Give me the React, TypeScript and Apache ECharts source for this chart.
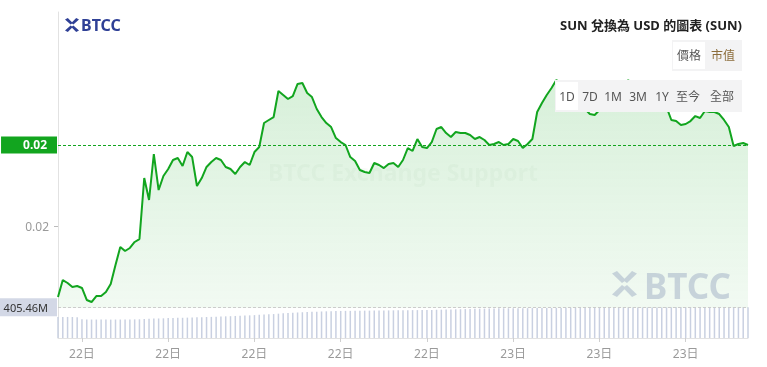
import React, { useEffect, useRef } from 'react';
import * as echarts from 'echarts';

// ---- data ----
const START_DAY = 22;
const START_MINUTES = 8 * 60 + 10; // 22日 08:10
const STEP_MINUTES = 10;

const prices = [
  0.018634, 0.018841, 0.018805, 0.018756, 0.018768, 0.018744, 0.018598, 0.018573, 0.018646, 0.018646,
  0.018695, 0.018793, 0.019024, 0.019244, 0.019195, 0.019232, 0.019305, 0.019341, 0.020085, 0.019817,
  0.020378, 0.019939, 0.020110, 0.020195, 0.020305, 0.020329, 0.020232, 0.020402, 0.020341, 0.019988,
  0.020085, 0.020220, 0.020280, 0.020329, 0.020305, 0.020220, 0.020195, 0.020134, 0.020220, 0.020280,
  0.020244, 0.020402, 0.020463, 0.020756, 0.020793, 0.020829, 0.021146, 0.021098, 0.021049, 0.021085,
  0.021232, 0.021244, 0.021122, 0.021073, 0.020927, 0.020829, 0.020756, 0.020707, 0.020573, 0.020524,
  0.020488, 0.020341, 0.020293, 0.020183, 0.020159, 0.020146, 0.020268, 0.020244, 0.020207, 0.020256,
  0.020268, 0.020220, 0.020305, 0.020451, 0.020415, 0.020561, 0.020463, 0.020451, 0.020524, 0.020683,
  0.020707, 0.020634, 0.020585, 0.020646, 0.020634, 0.020634, 0.020610, 0.020561, 0.020585, 0.020549,
  0.020488, 0.020500, 0.020524, 0.020488, 0.020500, 0.020561, 0.020537, 0.020451, 0.020500, 0.020561,
  0.020890, 0.021000, 0.021098, 0.021183, 0.021280, 0.021244, 0.021171, 0.021085, 0.021024, 0.020976,
  0.020927, 0.020866, 0.020854, 0.020915, 0.020988, 0.021024, 0.021073, 0.021122, 0.021195, 0.021280,
  0.021183, 0.021085, 0.021037, 0.021061, 0.021024, 0.021024, 0.020988, 0.020951, 0.020793, 0.020780,
  0.020732, 0.020744, 0.020780, 0.020841, 0.020817, 0.020902, 0.020890, 0.020890, 0.020866, 0.020793,
  0.020707, 0.020476, 0.020500, 0.020512, 0.020488,
];

// 24h volume, in millions
const volumesM = [
  276, 275, 277, 276, 274,
  248, 244, 243, 243, 244, 243, 242, 243, 243, 244, 244, 245, 246,
  250, 252, 255, 257, 259, 262, 263, 265, 266, 268, 270, 272, 274, 276, 278, 280, 283, 285, 287, 290, 292, 295, 298, 301,
  305, 308, 311, 315, 320, 325, 330, 333, 336, 339, 342, 344, 347, 349, 351, 353, 355,
  356, 357, 357, 358, 359, 360, 360, 361, 362, 363, 363, 364, 365, 365, 366, 367, 367, 368,
  369, 370, 372, 373, 375, 376, 378, 379, 381, 382, 384, 385, 386, 387, 389, 390, 391,
  391, 392, 392, 393, 393, 394, 394, 395, 395, 395, 396, 396, 397, 397, 397, 398, 398, 398, 399, 399,
  399, 400, 400, 400, 400, 401, 401, 401, 401, 402, 402, 402, 402, 403, 403, 403, 403, 403, 404, 404,
  404, 404, 404, 404, 405, 405, 405, 405, 405, 405, 405.46,
];

const priceTicks = [0.0195];
const lastPriceLabel = '0.02';
const lastVolumeLabel = '405.46M';
const title = 'SUN 兌換為 USD 的圖表 (SUN)';
const modeButtons = ['價格', '市值'];
const rangeButtons = ['1D', '7D', '1M', '3M', '1Y', '至今', '全部'];
const watermarkText = 'BTCC Exchange Support';
const brand = 'BTCC';

const minutes = prices.map((_, i) => START_MINUTES + i * STEP_MINUTES);
const categories = minutes.map((m) => {
  const d = START_DAY + Math.floor(m / 1440);
  const hm = m % 1440;
  return `${d}日 ${String(Math.floor(hm / 60)).padStart(2, '0')}:${String(hm % 60).padStart(2, '0')}`;
});

const GREEN = '#12a51f';
const FONT = "'Noto Sans', 'Noto Sans CJK TC', sans-serif";

echarts.graphic.registerShape(
  'btccLogo',
  echarts.graphic.extendPath(
    'M0 2 L4 0 L10 6 L16 0 L20 2 L12 9.2 L10 7.8 L8 9.2 Z M0 18 L4 20 L10 14 L16 20 L20 18 L12 10.8 L10 12.2 L8 10.8 Z',
    {}
  )
);

const labelEvery3h = (idx: number) => minutes[idx] % 180 === 0;

export default function App() {
  const ref = useRef<HTMLDivElement>(null);
  useEffect(() => {
    if (!ref.current) return;
    const chart = echarts.init(ref.current, null, { renderer: 'svg' });
    const rangeX = [567, 590, 613, 638, 662, 688, 722];
    const option: any = {
      animation: false,
      textStyle: { fontFamily: FONT },
      grid: [
        { left: 58, right: 19, top: 12, bottom: 59 },
        { left: 58, right: 19, top: 300, bottom: 29 },
      ],
      xAxis: [
        {
          type: 'category', gridIndex: 0, data: categories, boundaryGap: false,
          axisLine: { show: false }, axisTick: { show: false }, axisLabel: { show: false }, splitLine: { show: false },
        },
        {
          type: 'category', gridIndex: 1, data: categories, boundaryGap: false,
          axisLine: { lineStyle: { color: '#e2e2e2' } },
          axisTick: { show: true, interval: labelEvery3h, length: 4, lineStyle: { color: '#cfcfcf' } },
          axisLabel: {
            interval: labelEvery3h, color: '#9a9a9a', fontSize: 12, margin: 9,
            formatter: (v: string) => v.split(' ')[0],
          },
          splitLine: { show: false },
        },
      ],
      yAxis: [
        {
          type: 'value', gridIndex: 0, min: 0.0185, max: 0.02211,
          axisLine: { show: true, lineStyle: { color: '#e2e2e2' } },
          axisTick: { show: true, customValues: priceTicks, length: 4, lineStyle: { color: '#bbb' } },
          axisLabel: {
            customValues: priceTicks, color: '#9a9a9a', fontSize: 12, margin: 9,
            formatter: (v: number) => v.toFixed(2),
          },
          splitLine: { show: false },
        },
        {
          type: 'value', gridIndex: 1, min: 0, max: 500,
          axisLine: { show: true, lineStyle: { color: '#e2e2e2' } },
          axisTick: { show: false }, axisLabel: { show: false }, splitLine: { show: false },
        },
      ],
      series: [
        {
          type: 'line', xAxisIndex: 0, yAxisIndex: 0, data: prices,
          symbol: 'none', showSymbol: false, z: 3,
          lineStyle: { color: GREEN, width: 2 },
          areaStyle: {
            origin: 'start',
            color: new echarts.graphic.LinearGradient(0, 0, 0, 1, [
              { offset: 0, color: 'rgba(18,165,31,0.24)' },
              { offset: 1, color: 'rgba(18,165,31,0.08)' },
            ]),
          },
          markLine: {
            symbol: 'none', silent: true, animation: false, precision: 8,
            data: [{ yAxis: prices[prices.length - 1] }],
            lineStyle: { color: GREEN, type: [3, 2], width: 1 },
            label: {
              position: 'start', formatter: lastPriceLabel, color: '#fff', fontWeight: 'bold',
              fontSize: 12, backgroundColor: GREEN, padding: [3, 10, 2, 22], distance: 1,
            },
          },
        },
        {
          type: 'bar', xAxisIndex: 1, yAxisIndex: 1, data: volumesM,
          barWidth: 1.5, itemStyle: { color: '#c9d0e1' },
          markLine: {
            symbol: 'none', silent: true, animation: false, precision: 4,
            data: [{ yAxis: volumesM[volumesM.length - 1] }],
            lineStyle: { color: '#cccccc', type: [3, 2], width: 1 },
            label: {
              position: 'start', formatter: lastVolumeLabel, color: '#333', fontSize: 11,
              backgroundColor: '#d3d8e6', padding: [4, 9, 3, 8], distance: 1,
            },
          },
        },
      ],
      graphic: [
        {
          type: 'text', x: 403, y: 172, z: 1, silent: true,
          style: { text: watermarkText, fill: 'rgba(90,140,90,0.045)', font: `bold 23px ${FONT}`, align: 'center', verticalAlign: 'middle' },
        },
        {
          type: 'btccLogo', x: 612, y: 271, scaleX: 1.25, scaleY: 1.3, z: 10, silent: true,
          style: { fill: 'rgba(165,180,200,0.55)' },
        },
        {
          type: 'text', x: 644, y: 285, z: 10, silent: true,
          style: { text: brand, fill: 'rgba(165,180,200,0.55)', font: `bold 35px ${FONT}`, align: 'left', verticalAlign: 'middle' },
        },
        { type: 'btccLogo', x: 65, y: 18, scaleX: 0.7, scaleY: 0.7, z: 100, style: { fill: '#2f4096' } },
        {
          type: 'text', x: 81, y: 25, z: 100,
          style: { text: brand, fill: '#2f4096', font: `bold 16px ${FONT}`, align: 'left', verticalAlign: 'middle' },
        },
        {
          type: 'text', x: 742, y: 25, z: 100,
          style: { text: title, fill: '#222', font: `bold 13px ${FONT}`, align: 'right', verticalAlign: 'middle' },
        },
        { type: 'rect', z: 100, shape: { x: 672, y: 40, width: 70, height: 31 }, style: { fill: '#f3f3f4' } },
        { type: 'rect', z: 101, shape: { x: 673, y: 42, width: 32, height: 27 }, style: { fill: '#ffffff' } },
        {
          type: 'text', x: 689, y: 55, z: 102,
          style: { text: modeButtons[0], fill: '#555', font: `12px ${FONT}`, align: 'center', verticalAlign: 'middle' },
        },
        {
          type: 'text', x: 723, y: 55, z: 102,
          style: { text: modeButtons[1], fill: '#8c6d3a', font: `12px ${FONT}`, align: 'center', verticalAlign: 'middle' },
        },
        { type: 'rect', z: 100, shape: { x: 555, y: 80, width: 187, height: 32 }, style: { fill: '#f3f3f4' } },
        { type: 'rect', z: 101, shape: { x: 556, y: 82, width: 22, height: 28 }, style: { fill: '#ffffff' } },
        ...rangeButtons.map((t, i) => ({
          type: 'text', x: rangeX[i], y: 96, z: 102,
          style: { text: t, fill: '#555', font: `12px ${FONT}`, align: 'center', verticalAlign: 'middle' },
        })),
      ],
    };
    chart.setOption(option);
    return () => chart.dispose();
  }, []);
  return <div ref={ref} style={{ position: 'fixed', left: 0, top: 0, width: 767, height: 367 }} />;
}
